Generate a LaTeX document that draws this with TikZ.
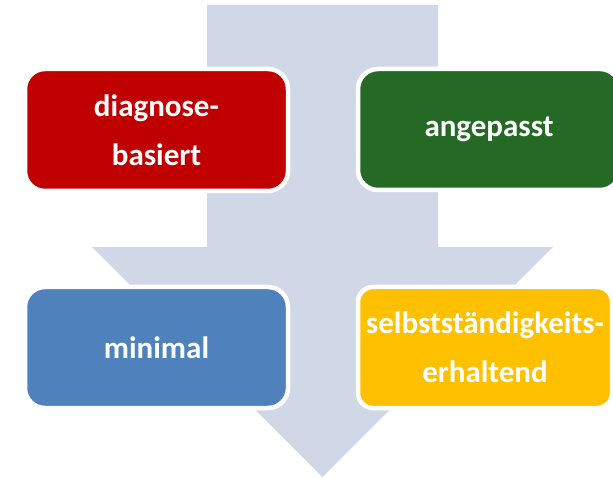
\documentclass[tikz,border=0pt]{standalone}
\usepackage{fontspec}
\setmainfont{Carlito}
\definecolor{arrowfill}{HTML}{D0D8E8}
\definecolor{boxred}{HTML}{C00000}
\definecolor{boxgreen}{HTML}{246A24}
\definecolor{boxblue}{HTML}{4F81BD}
\definecolor{boxyellow}{HTML}{FFC000}
\begin{document}
\begin{tikzpicture}[x=1pt,y=1pt,
  box/.style={rectangle, rounded corners=20pt, draw=white, line width=4.5pt,
    text=white, font=\fontsize{31}{49}\selectfont\bfseries, align=center, inner sep=2pt},
  bigarrow/.style={fill=arrowfill}]
\useasboundingbox (0,0) rectangle (613,477);
\fill[bigarrow] (207,472) -- (438,472) -- (438,230) -- (553,230) -- (322.5,0)
  -- (92,230) -- (207,230) -- cycle;
\node[box, fill=boxred, minimum width=263pt, minimum height=122pt] (diag) at (156.5,347) {diagnose-\\basiert};
\node[box, fill=boxgreen, minimum width=262pt, minimum height=121pt] (anp) at (489,347.5) {angepasst};
\node[box, fill=boxblue, minimum width=263pt, minimum height=121pt] (mini) at (156.5,129.5) {minimal};
\node[box, fill=boxyellow, rounded corners=15pt, minimum width=254pt, minimum height=121pt] (selb) at (485,129.5) {selbstständigkeits-\\erhaltend};
\end{tikzpicture}
\end{document}
